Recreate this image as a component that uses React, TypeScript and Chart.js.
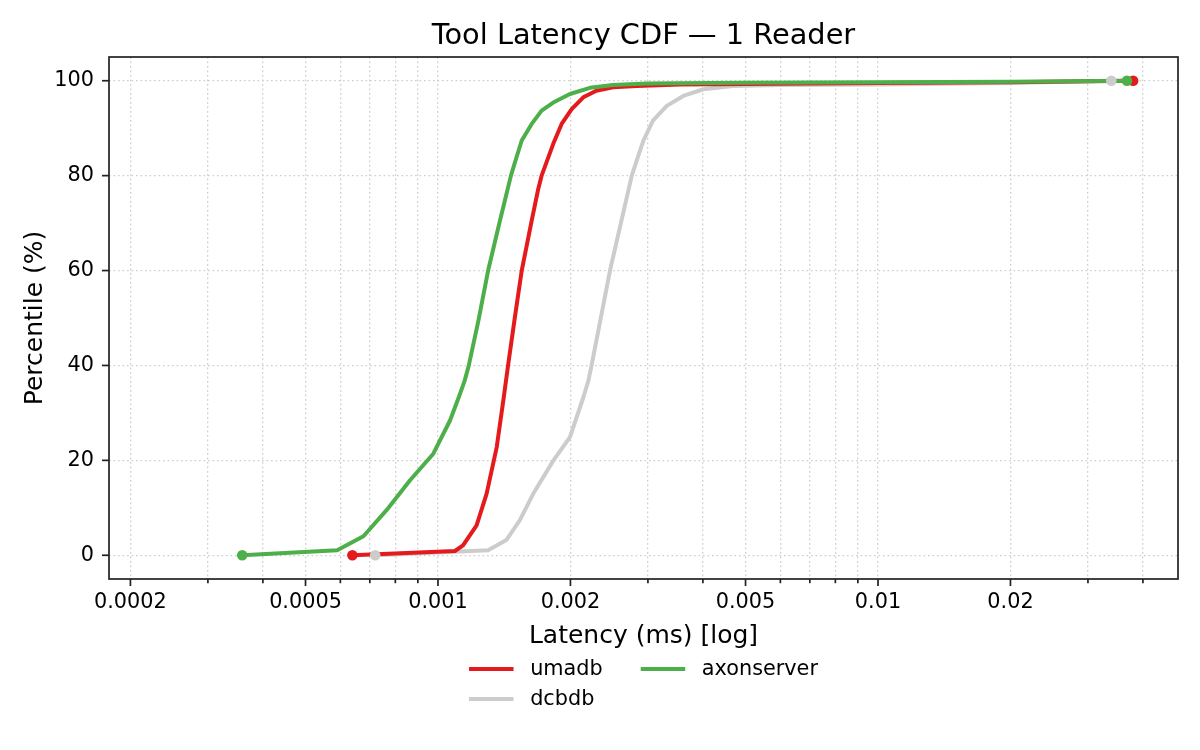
import { useEffect, useRef } from 'react';
import { Chart, registerables } from 'chart.js';

Chart.register(...registerables);

// ---- data (latency in ms, percentile in %) ----
const seriesNames = ['umadb', 'dcbdb', 'axonserver'];
const seriesColors = ['#e41a1c', '#cccccc', '#4daf4a'];
const seriesDrawOrder = [2, 3, 1]; // higher drawn first (behind)

const umadbLatency = [0.000639, 0.001093, 0.00114, 0.001224, 0.00129, 0.00136, 0.001411, 0.001443, 0.001492, 0.00155, 0.001633, 0.00169, 0.00172, 0.001828, 0.00191, 0.002013, 0.002139, 0.00229, 0.0025, 0.00283, 0.00355, 0.005, 0.01, 0.02, 0.038];
const umadbPercentile = [0, 0.9, 2.1, 6.3, 13, 22.8, 33.3, 40, 49.5, 60, 70.5, 77.2, 80, 86.7, 90.9, 94.0, 96.5, 97.9, 98.6, 98.9, 99.2, 99.3, 99.5, 99.7, 100];

const dcbdbLatency = [0.00072, 0.0013, 0.00143, 0.001535, 0.001647, 0.00183, 0.001995, 0.00214, 0.002197, 0.002234, 0.00246, 0.002757, 0.00283, 0.00293, 0.00308, 0.00331, 0.00361, 0.00401, 0.00469, 0.006, 0.01, 0.02, 0.0339];
const dcbdbPercentile = [0, 1.05, 3.2, 7.4, 13, 20, 24.9, 33.3, 36.8, 40, 60, 80, 83.2, 87.4, 91.6, 94.7, 96.8, 98.2, 98.9, 99.1, 99.2, 99.5, 100];

const axonLatency = [0.000359, 0.00059, 0.000677, 0.000764, 0.000864, 0.000976, 0.001065, 0.001115, 0.00115, 0.001175, 0.001236, 0.0013, 0.001383, 0.001465, 0.001504, 0.00155, 0.001633, 0.00172, 0.001828, 0.001995, 0.002215, 0.0025, 0.00298, 0.00486, 0.01, 0.02, 0.0368];
const axonPercentile = [0, 1.05, 4.0, 9.5, 15.8, 21.4, 28.4, 33.3, 36.8, 40, 49.5, 60, 70.5, 80, 83.5, 87.4, 90.9, 93.7, 95.4, 97.2, 98.5, 99.1, 99.4, 99.6, 99.7, 99.8, 100];

const seriesLatency = [umadbLatency, dcbdbLatency, axonLatency];
const seriesPercentile = [umadbPercentile, dcbdbPercentile, axonPercentile];

const xMin = 0.0001788;
const xMax = 0.04806;
const yMin = -5;
const yMax = 105;

const xTickValues = [0.0002, 0.0003, 0.0004, 0.0005, 0.0006, 0.0007, 0.0008, 0.0009, 0.001, 0.002, 0.003, 0.004, 0.005, 0.006, 0.007, 0.008, 0.009, 0.01, 0.02, 0.03, 0.04];
const xTickLabels = ['0.0002', '', '', '0.0005', '', '', '', '', '0.001', '0.002', '', '', '0.005', '', '', '', '', '0.01', '0.02', '', ''];
const yTickValues = [0, 20, 40, 60, 80, 100];

const titleText = 'Tool Latency CDF — 1 Reader';
const xAxisTitle = 'Latency (ms) [log]';
const yAxisTitle = 'Percentile (%)';

const FONT = "'DejaVu Sans', 'Liberation Sans', sans-serif";
const TICK_SIZE = 20.8;

export default function App() {
  const ref = useRef<HTMLCanvasElement>(null);

  useEffect(() => {
    document.body.style.margin = '0';
    const canvas = ref.current;
    if (!canvas) return;

    const decor = {
      id: 'decor',
      afterDatasetsDraw(chart: any) {
        const ctx = chart.ctx;
        const metas = chart.getSortedVisibleDatasetMetas();
        ctx.save();
        for (let i = metas.length - 1; i >= 0; i--) {
          const meta = metas[i];
          const pts = meta.data;
          if (!pts.length) continue;
          ctx.fillStyle = seriesColors[meta.index];
          for (const p of [pts[0], pts[pts.length - 1]]) {
            ctx.beginPath();
            ctx.arc(p.x, p.y, 5.3, 0, Math.PI * 2);
            ctx.fill();
          }
        }
        ctx.restore();
      },
      afterDraw(chart: any) {
        const ctx = chart.ctx;
        const a = chart.chartArea;
        const xs = chart.scales.x;
        const ys = chart.scales.y;
        ctx.save();
        // tick marks
        ctx.strokeStyle = '#222222';
        ctx.lineWidth = 1.7;
        xs.ticks.forEach((t: any, i: number) => {
          const px = xs.getPixelForValue(t.value);
          const len = xTickLabels[i] ? 7 : 4.2;
          ctx.beginPath();
          ctx.moveTo(px, a.bottom);
          ctx.lineTo(px, a.bottom + len);
          ctx.stroke();
        });
        ys.ticks.forEach((t: any) => {
          const py = ys.getPixelForValue(t.value);
          ctx.beginPath();
          ctx.moveTo(a.left - 7, py);
          ctx.lineTo(a.left, py);
          ctx.stroke();
        });
        // spines
        ctx.strokeRect(a.left, a.top, a.right - a.left, a.bottom - a.top);

        const cx = (a.left + a.right) / 2;
        const cy = (a.top + a.bottom) / 2;
        ctx.fillStyle = '#000000';
        // title
        ctx.font = `28.8px ${FONT}`;
        ctx.textAlign = 'center';
        ctx.textBaseline = 'alphabetic';
        ctx.fillText(titleText, cx, a.top - 13);
        // x title
        ctx.font = `25px ${FONT}`;
        ctx.fillText(xAxisTitle, cx, a.bottom + 64);
        // y title
        ctx.save();
        ctx.translate(42, cy);
        ctx.rotate(-Math.PI / 2);
        ctx.fillText(yAxisTitle, 0, 0);
        ctx.restore();

        // legend (2 columns, column-major)
        ctx.font = `${TICK_SIZE}px ${FONT}`;
        const handle = 44.5;
        const pad = 16.6;
        const colSp = 38;
        const cols = [[0, 1], [2]];
        const colW = cols.map(c => handle + pad + Math.max(...c.map(i => ctx.measureText(seriesNames[i]).width)));
        const total = colW.reduce((s, w) => s + w, 0) + colSp * (cols.length - 1);
        let x0 = cx - total / 2;
        const rowY = [a.bottom + 90, a.bottom + 120];
        ctx.textAlign = 'left';
        cols.forEach((c, ci) => {
          c.forEach((si, ri) => {
            const y = rowY[ri];
            ctx.strokeStyle = seriesColors[si];
            ctx.lineWidth = 4;
            ctx.beginPath();
            ctx.moveTo(x0, y);
            ctx.lineTo(x0 + handle, y);
            ctx.stroke();
            ctx.fillStyle = '#000000';
            ctx.fillText(seriesNames[si], x0 + handle + pad, y + 6);
          });
          x0 += colW[ci] + colSp;
        });
        ctx.restore();
      },
    };

    const datasets = seriesNames.map((name, s) => ({
      label: name,
      data: seriesLatency[s].map((x, i) => ({ x, y: seriesPercentile[s][i] })),
      borderColor: seriesColors[s],
      backgroundColor: seriesColors[s],
      borderWidth: 4,
      borderJoinStyle: 'round' as const,
      borderCapStyle: 'round' as const,
      pointRadius: 0,
      pointHoverRadius: 0,
      fill: false,
      tension: 0,
      order: seriesDrawOrder[s],
    }));

    const gridColor = '#cfcfcf';

    const chart = new Chart(canvas, {
      type: 'line',
      data: { datasets },
      plugins: [decor],
      options: {
        responsive: false,
        animation: false,
        layout: { padding: { left: 0, top: 57, right: 22, bottom: 0 } },
        plugins: {
          legend: { display: false },
          title: { display: false },
          tooltip: { enabled: false },
        },
        scales: {
          x: {
            type: 'logarithmic',
            min: xMin,
            max: xMax,
            afterBuildTicks: (s: any) => {
              s.ticks = xTickValues.map(v => ({ value: v }));
            },
            afterFit: (s: any) => {
              s.height = 171;
            },
            ticks: {
              autoSkip: false,
              maxRotation: 0,
              minRotation: 0,
              padding: 11,
              color: '#000000',
              font: { family: FONT, size: TICK_SIZE },
              callback: (_v: any, i: number) => xTickLabels[i] ?? '',
            },
            grid: { color: gridColor, lineWidth: 1.3, drawTicks: false },
            border: { display: false, dash: [1.7, 2.8] },
          },
          y: {
            type: 'linear',
            min: yMin,
            max: yMax,
            afterBuildTicks: (s: any) => {
              s.ticks = yTickValues.map(v => ({ value: v }));
            },
            afterFit: (s: any) => {
              s.width = 109;
            },
            ticks: {
              padding: 15,
              color: '#000000',
              font: { family: FONT, size: TICK_SIZE },
              callback: (v: any) => String(v),
            },
            grid: { color: gridColor, lineWidth: 1.3, drawTicks: false },
            border: { display: false, dash: [1.7, 2.8] },
          },
        },
      },
    } as any);

    return () => chart.destroy();
  }, []);

  return (
    <div style={{ position: 'absolute', left: 0, top: 0, width: 1200, height: 750, background: '#ffffff' }}>
      <canvas ref={ref} width={1200} height={750} style={{ width: 1200, height: 750, display: 'block' }} />
    </div>
  );
}
